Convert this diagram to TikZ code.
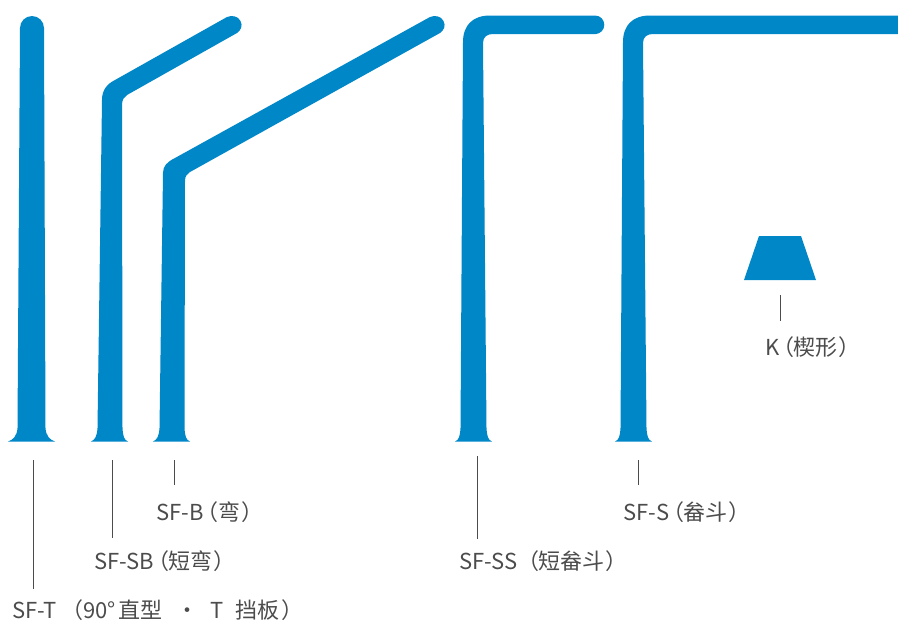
\documentclass[tikz,border=0pt]{standalone}
\usepackage{fontspec}
\newfontfamily\cjk[RawFeature=+palt]{Noto Sans CJK SC}
\usetikzlibrary{positioning}
\definecolor{poleblue}{HTML}{0087C8}
\tikzset{
	pole/.style={fill=poleblue},
	leader/.style={draw=black!70,line width=0.8pt},
	polelabel/.style={right,inner sep=0pt,text=black!70,font=\cjk\fontsize{22}{22}\selectfont},
}
\newcommand{\gap}[1]{\hspace{#1pt}}
\begin{document}
\begin{tikzpicture}[x=1pt,y=-1pt]
	\useasboundingbox (0,0) rectangle (898,622);

	% poles
	\fill[pole] (20,28) arc[start angle=180,end angle=360,radius=12]
		-- (45.5,428) .. controls (46,436) and (50,440) .. (55,441.5)
		-- (8,441.5) .. controls (13,440) and (17,436) .. (17.5,428) -- cycle;
	\fill[pole] (102,100) .. controls (102,90) and (107,84) .. (115,80)
		-- (227,17) .. controls (232,15) and (238,16) .. (240.5,21)
		.. controls (243,26) and (241,30) .. (237,33)
		-- (127,95) .. controls (124,97) and (122,100) .. (122,105)
		-- (122.5,428) .. controls (123,436) and (124,440) .. (128,441.5)
		-- (91,441.5) .. controls (95,440) and (97,436) .. (97.5,428) -- cycle;
	\fill[pole] (163,173) .. controls (163,166) and (167,162) .. (175,158)
		-- (430,17) .. controls (435,15) and (441,16) .. (443.5,21)
		.. controls (446,26) and (444,30) .. (440,33)
		-- (190,172) .. controls (187,174) and (185,176) .. (185,181)
		-- (184.5,428) .. controls (185,436) and (186,440) .. (190,441.5)
		-- (153,441.5) .. controls (157,440) and (159,436) .. (159.5,428) -- cycle;
	\fill[pole] (463,42) .. controls (463,25) and (473,15.5) .. (490,15.5)
		-- (595,15.5) arc[start angle=-90,end angle=90,radius=9.3]
		-- (493,34) .. controls (487,34) and (483,37) .. (483,43)
		-- (486.5,428) .. controls (487,436) and (488,440) .. (492,441.5)
		-- (455,441.5) .. controls (459,440) and (460,436) .. (460.5,428) -- cycle;
	\fill[pole] (623,42) .. controls (623,25) and (633,15.5) .. (650,15.5)
		-- (898,15.5) -- (898,34)
		-- (653,34) .. controls (647,34) and (643,37) .. (643,43)
		-- (646.5,428) .. controls (647,436) and (648,440) .. (652,441.5)
		-- (615,441.5) .. controls (619,440) and (620,436) .. (620.5,428) -- cycle;
	\fill[pole] (759,236) -- (801,236) -- (816,280) -- (744,280) -- cycle;

	% labels
	\node[polelabel] (sft) at (12,610) {SF-T\gap{15}（90°\gap{3}直型\gap{19}・\gap{18}T\gap{12}挡板\gap{2}）};
	\node[polelabel] (sfsb) at (94,561) {SF-SB\gap{3}（短弯\gap{2}）};
	\node[polelabel] (sfb) at (156.5,512) {SF-B\gap{3}（弯\gap{2}）};
	\node[polelabel] (sfss) at (459,561) {SF-SS\gap{10}（短畚斗\gap{2}）};
	\node[polelabel] (sfs) at (623.5,512) {SF-S\gap{3}（畚斗\gap{2}）};
	\node[polelabel] (wedge) at (765,347) {K\gap{3}（楔形\gap{2}）};

	% leaders
	\coordinate (a1) at (33.5,460); \coordinate (a2) at (33.5,589);
	\coordinate (b1) at (112,460); \coordinate (b2) at (112,538);
	\coordinate (c1) at (174,460); \coordinate (c2) at (174,485);
	\coordinate (d1) at (477,456); \coordinate (d2) at (477,539);
	\coordinate (e1) at (638,460); \coordinate (e2) at (638,485);
	\coordinate (f1) at (780,295); \coordinate (f2) at (780,321);
	\foreach \i in {a,b,c,d,e,f}
		\draw[leader] (\i1) -- (\i2);
\end{tikzpicture}
\end{document}
